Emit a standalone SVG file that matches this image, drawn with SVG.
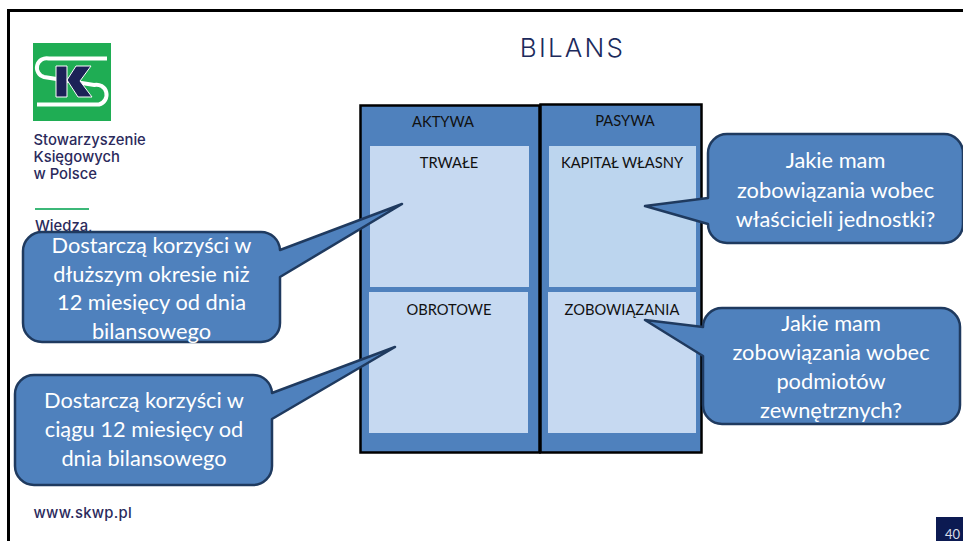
<svg xmlns="http://www.w3.org/2000/svg" width="963" height="541" viewBox="0 0 963 541">
<style>
text{font-family:"Lato","Open Sans","Liberation Sans",sans-serif}
.panel{fill:#4f81bd;stroke:#000;stroke-width:2.5}
.cell{fill:#c6d9f1}
.lbl{font-size:14.700px;fill:#111;text-anchor:middle}
.call{fill:#4f81bd;stroke:#1f3a5f;stroke-width:2.5;stroke-linejoin:round}
.ct{font-size:21.800px;fill:#fff;text-anchor:middle}
.logo{font-family:"Inter","Open Sans",sans-serif;font-size:14.800px;font-weight:500;fill:#2b2a5c}
</style>
<rect width="963" height="541" fill="#fff"/>
<path d="M8.500 541V10.500H963" fill="none" stroke="#000" stroke-width="3"/>
<g id="logo">
<rect x="33" y="43" width="78" height="78" fill="#1fad54"/>
<path d="M107 58.500H49a9.500 9.500 0 0 0-5 18.500L94 85a10 10 0 0 1 5 19.500H37" fill="none" stroke="#fff" stroke-width="4"/>
<path d="M56 66h11v31H56zM67 80l9-14h15L80 81l12 16H78z" fill="#1c2257" stroke="#fff" stroke-width="1"/>
<text class="logo" x="33.500" y="145">Stowarzyszenie</text>
<text class="logo" x="33.500" y="162">Księgowych</text>
<text class="logo" x="33.500" y="179">w Polsce</text>
<rect x="35" y="208" width="54" height="2" fill="#3cb878"/>
<text class="logo" x="35" y="231">Wiedza,</text>
<text class="logo" x="33.500" y="518" font-weight="600" style="letter-spacing:.3px">www.skwp.pl</text>
</g>
<text id="title" x="572.500" y="57" font-size="26" font-weight="300" fill="#1c2a5c" text-anchor="middle" style="font-family:Inter,'Open Sans',sans-serif;letter-spacing:2.200px">BILANS</text>
<g id="aktywa">
<rect class="panel" x="360.500" y="105.500" width="179" height="347"/>
<text class="lbl" x="443" y="127">AKTYWA</text>
</g>
<g id="pasywa">
<rect class="panel" x="540.500" y="104.500" width="161" height="348"/>
<text class="lbl" x="625" y="126">PASYWA</text>
</g>
<g id="trwale"><rect class="cell" x="370" y="146" width="159" height="141"/><text class="lbl" x="449" y="168">TRWAŁE</text></g>
<g id="kapital"><rect x="549" y="146" width="147" height="141" fill="#bcd5ee"/><text class="lbl" x="622" y="168">KAPITAŁ WŁASNY</text></g>
<g id="obrotowe"><rect class="cell" x="369" y="292" width="159" height="141"/><text class="lbl" x="449" y="315">OBROTOWE</text></g>
<g id="zobowiazania"><rect class="cell" x="548" y="292" width="148" height="141"/><text class="lbl" x="622" y="315">ZOBOWIĄZANIA</text></g>
<g id="connectors"></g>
<g id="callout-trwale">
<path class="call" d="M42 232H261a19 19 0 0 1 19 18L402 204 280 277V323a19 19 0 0 1-19 19H42a19 19 0 0 1-19-19V251a19 19 0 0 1 19-19Z"/>
<text class="ct" x="151.500" y="253">Dostarczą korzyści w</text>
<text class="ct" x="151.500" y="282">dłuższym okresie niż</text>
<text class="ct" x="151.500" y="310">12 miesięcy od dnia</text>
<text class="ct" x="151.500" y="339">bilansowego</text>
</g>
<g id="callout-obrotowe">
<path class="call" d="M34 375H253a19 19 0 0 1 19 18L395 347 272 419V466a19 19 0 0 1-19 19H34a19 19 0 0 1-19-19V394a19 19 0 0 1 19-19Z"/>
<text class="ct" x="144" y="408">Dostarczą korzyści w</text>
<text class="ct" x="144" y="437">ciągu 12 miesięcy od</text>
<text class="ct" x="144" y="466">dnia bilansowego</text>
</g>
<g id="callout-kapital">
<path class="call" d="M727 134H944a19 19 0 0 1 19 19V224a19 19 0 0 1-19 19H727a19 19 0 0 1-19-19L645 206 708 198V153a19 19 0 0 1 19-19Z"/>
<text class="ct" x="835.500" y="168">Jakie mam</text>
<text class="ct" x="835.500" y="198">zobowiązania wobec</text>
<text class="ct" x="835.500" y="227">właścicieli jednostki?</text>
</g>
<g id="callout-zobowiazania">
<path class="call" d="M722 308H941a19 19 0 0 1 19 19V405a19 19 0 0 1-19 19H722a19 19 0 0 1-19-19V356L645 320 703 327a19 19 0 0 1 19-19Z"/>
<text class="ct" x="831" y="331">Jakie mam</text>
<text class="ct" x="831" y="360">zobowiązania wobec</text>
<text class="ct" x="831" y="389">podmiotów</text>
<text class="ct" x="831" y="418">zewnętrznych?</text>
</g>
<g id="page-number">
<rect x="936" y="517" width="27" height="24" fill="#0c1a52"/>
<text x="952.500" y="539" font-size="13" fill="#d8dce8" text-anchor="middle">40</text>
</g>
</svg>
